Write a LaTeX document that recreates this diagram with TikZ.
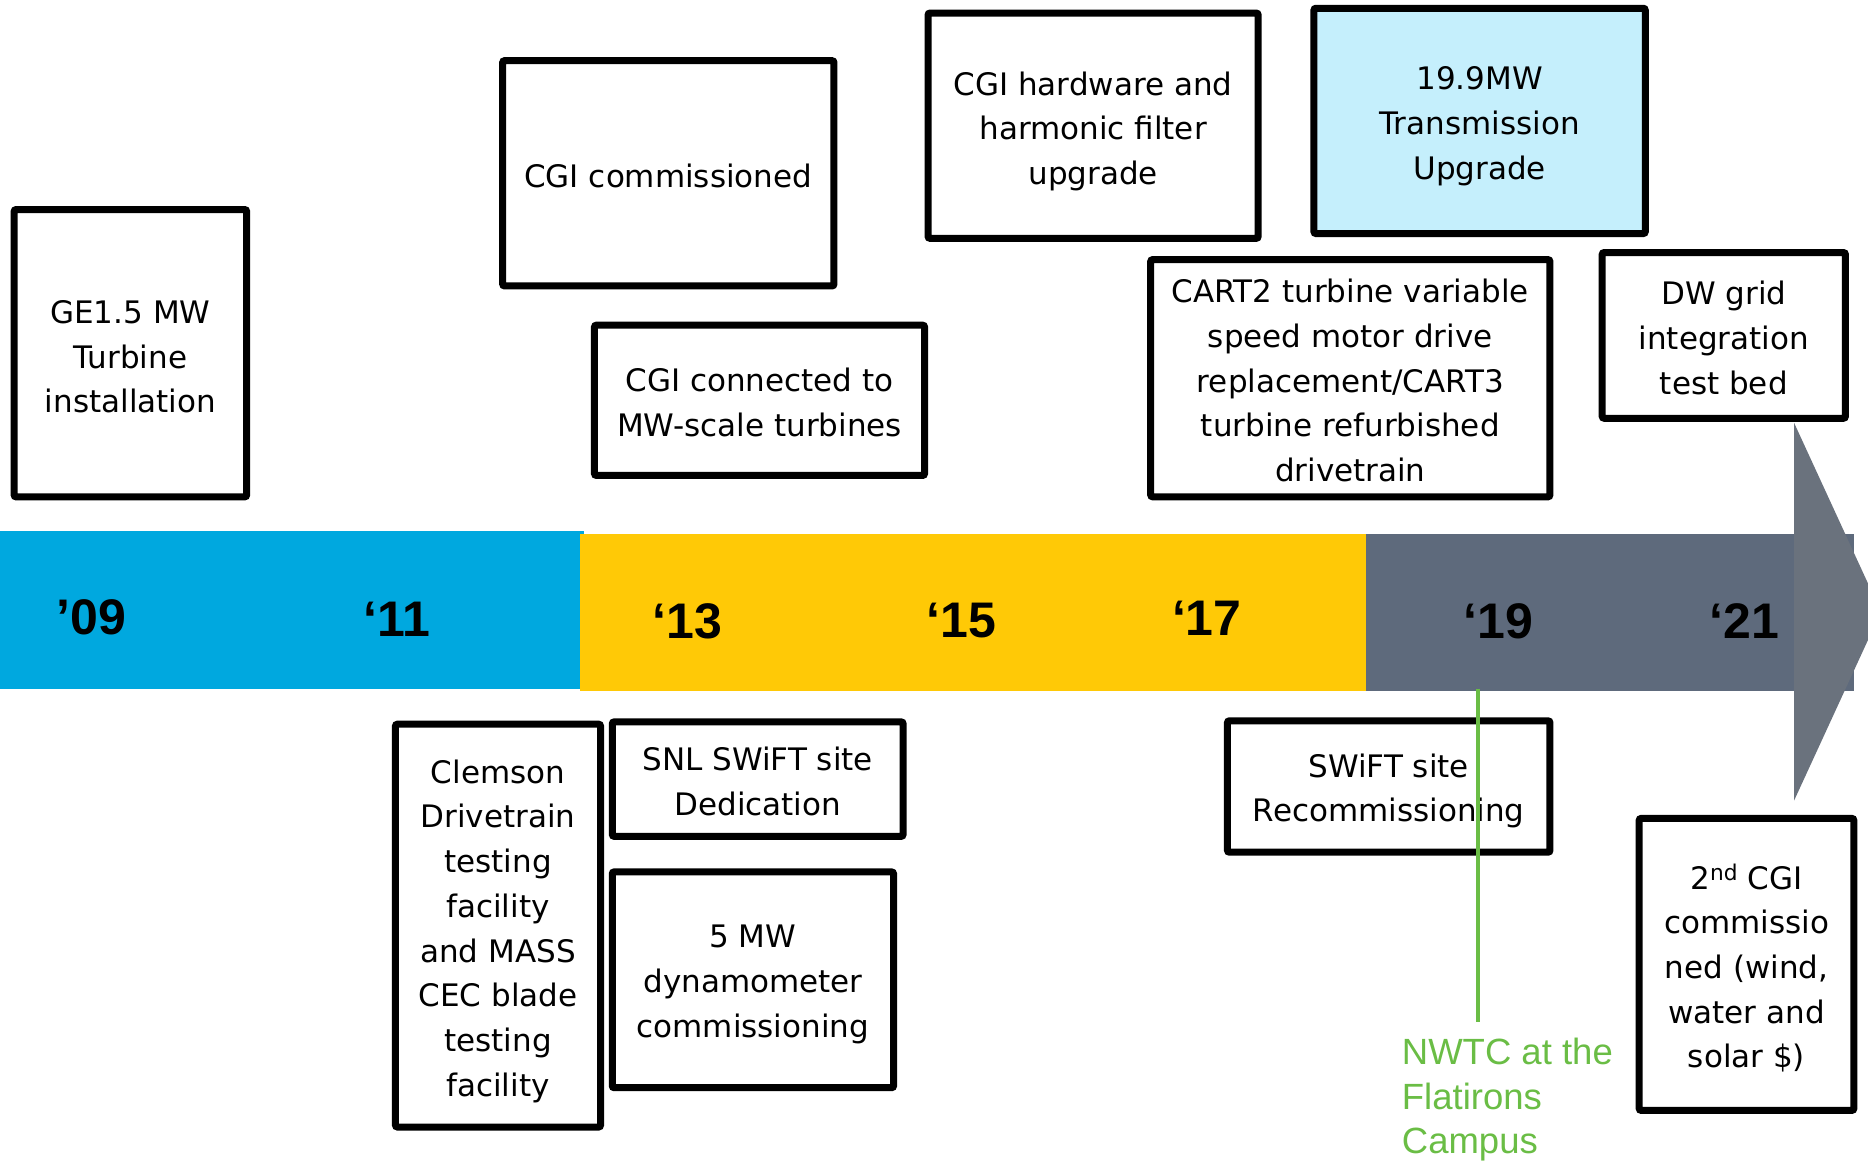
\documentclass[tikz,border=0pt]{standalone}
\usepackage{fontspec}
\setmainfont{DejaVu Sans}
\newfontfamily\boxfont{DejaVu Sans}
\newfontfamily\yearfont{Liberation Sans}
\newfontfamily\greenfont{Liberation Sans}
\definecolor{barblue}{HTML}{00A8DF}
\definecolor{baryellow}{HTML}{FFC906}
\definecolor{bargray}{HTML}{5E6A7C}
\definecolor{arrowgray}{HTML}{6A727D}
\definecolor{lightbluefill}{HTML}{C5EFFC}
\definecolor{nwtcgreen}{HTML}{6ABD45}
\begin{document}
\begin{tikzpicture}[x=1pt,y=-1pt,
  evbox/.style={draw=black, line width=7pt, rounded corners=2pt, fill=white,
    inner sep=0pt},
  boxtxt/.style={inner sep=0pt, align=center, text=black,
    font=\boxfont\fontsize{31}{44.7}\selectfont},
  yearlbl/.style={anchor=base, inner sep=0pt, text=black,
    font=\yearfont\bfseries\fontsize{50}{60}\selectfont},
  greenlbl/.style={anchor=west, inner sep=0pt, align=left, text=nwtcgreen,
    font=\greenfont\fontsize{36.5}{44.5}\selectfont}]

\useasboundingbox (0,0) rectangle (1868,1162);

% timeline bars
\begin{scope}
  \clip (0,0) rectangle (1868,1162);
  \fill[barblue] (0,531.3) rectangle (583.7,688.6);
  \fill[baryellow] (580.2,533.7) rectangle (1366.4,691);
  \fill[bargray] (1366.4,533.7) rectangle (1853.7,691);
  \fill[arrowgray] (1794.1,422.9) -- (1881,611.7) -- (1794.1,800.5) -- cycle;
\end{scope}

% year labels
\node[yearlbl] (y09) at (91.7,634) {’09};
\node[yearlbl] (y11) at (396.7,636.3) {‘11};
\node[yearlbl] (y13) at (687.4,638.7) {‘13};
\node[yearlbl] (y15) at (961.4,637.5) {‘15};
\node[yearlbl] (y17) at (1206.8,635) {‘17};
\node[yearlbl] (y19) at (1498.7,638.3) {‘19};
\node[yearlbl] (y21) at (1744.1,638.7) {‘21};

% upper boxes
\node[evbox, minimum width=232.5pt, minimum height=287.3pt] (ge) at (130.4,353.2) {};
\node[boxtxt, yshift=-3.6pt] (ge-t) at (ge.center) {GE1.5 MW\\Turbine\\installation};

\node[evbox, minimum width=331.3pt, minimum height=225.3pt] (cgicomm) at (668.3,173.3) {};
\node[boxtxt, yshift=-2.4pt] (cgicomm-t) at (cgicomm.center) {CGI commissioned};

\node[evbox, minimum width=330.1pt, minimum height=150.3pt] (cgiconn) at (759.5,400.3) {};
\node[boxtxt, yshift=-2.4pt] (cgiconn-t) at (cgiconn.center) {CGI connected to\\MW-scale turbines};

\node[evbox, minimum width=330.1pt, minimum height=225.3pt] (cgihw) at (1093.1,125.7) {};
\node[boxtxt, yshift=-5.5pt] (cgihw-t) at (cgihw.center) {CGI hardware and\\harmonic filter\\upgrade};

\node[evbox, fill=lightbluefill, minimum width=331.3pt, minimum height=225.3pt] (trans) at (1479.6,120.9) {};
\node[boxtxt, yshift=-5.5pt] (trans-t) at (trans.center) {19.9MW\\Transmission\\Upgrade};

\node[evbox, minimum width=399.2pt, minimum height=237.2pt] (cart) at (1350.3,378.2) {};
\node[boxtxt, yshift=-2.4pt] (cart-t) at (cart.center) {CART2 turbine variable\\speed motor drive\\replacement/CART3\\turbine refurbished\\drivetrain};

\node[evbox, minimum width=243.2pt, minimum height=165.7pt] (dw) at (1723.8,335.4) {};
\node[boxtxt, yshift=-2.4pt] (dw-t) at (dw.center) {DW grid\\integration\\test bed};

% lower boxes
\node[evbox, minimum width=205.1pt, minimum height=402.8pt] (clemson) at (498.0,925.6) {};
\node[boxtxt, yshift=-5.5pt] (clemson-t) at (clemson.center) {Clemson\\Drivetrain\\testing\\facility\\and MASS\\CEC blade\\testing\\facility};

\node[evbox, minimum width=290.8pt, minimum height=114.5pt] (snl) at (757.7,779.1) {};
\node[boxtxt, yshift=-2.4pt] (snl-t) at (snl.center) {SNL SWiFT site\\Dedication};

\node[evbox, minimum width=281.3pt, minimum height=215.8pt] (dyno) at (752.9,979.8) {};
\node[boxtxt, yshift=-4.8pt] (dyno-t) at (dyno.center) {5 MW\\dynamometer\\commissioning};

\node[evbox, minimum width=322.5pt, minimum height=131.4pt] (swift) at (1388.7,786.5) {};
\node[boxtxt, yshift=-4.5pt] (swift-t) at (swift.center) {SWiFT site\\Recommissioning};

\node[evbox, minimum width=214.6pt, minimum height=292pt] (cgi2) at (1746.5,964.4) {};
\node[boxtxt, yshift=-3.6pt] (cgi2-t) at (cgi2.center) {2\textsuperscript{nd} CGI\\commissio\\ned (wind,\\water and\\solar \$)};

% NWTC marker
\coordinate (gtop) at (1477.5,689);
\coordinate (gbot) at (1477.5,1022);
\draw[nwtcgreen, line width=4pt] (gtop) -- (gbot);
\node[greenlbl] (nwtc) at (1401.7,1100) {NWTC at the\\Flatirons\\Campus};

\end{tikzpicture}
\end{document}
